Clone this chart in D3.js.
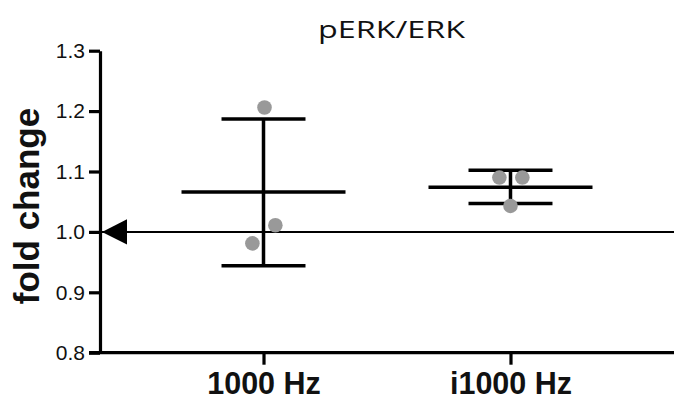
<!DOCTYPE html>
<html>
<head>
<meta charset="utf-8">
<script src="https://cdn.jsdelivr.net/npm/d3@7"></script>
<style>
  html, body { margin: 0; padding: 0; background: #fff; }
  svg { display: block; }
</style>
</head>
<body>
<svg id="chart" width="674" height="401"></svg>
<script>
// ---- data ----
const categories = ["1000 Hz", "i1000 Hz"];
const means = [1.066, 1.074];
const upper = [1.187, 1.102];
const lower = [0.944, 1.047];
const points1000 = [1.206, 1.011, 0.981];
const pointsI1000 = [1.090, 1.090, 1.043];
const jitter1000 = [0.004, 0.048, -0.045];   // fraction of category step
const jitterI1000 = [-0.045, 0.048, 0.0];
const yTicks = [0.8, 0.9, 1.0, 1.1, 1.2, 1.3];
const referenceValue = 1.0;
const title = "pERK/ERK";
const yLabel = "fold change";

const svg = d3.select("#chart");
const W = 674, H = 401;
const mLeft = 100, mTop = 50.7, mBottom = 352.7;

const y = d3.scaleLinear().domain([0.8, 1.3]).range([mBottom, mTop]);
const x = d3.scalePoint().domain(categories).range([mLeft, W]).padding(0.662);
const step = x.step();

// title
svg.append("text")
  .attr("x", 391.5).attr("y", 38)
  .attr("text-anchor", "middle")
  .attr("font-family", "'Open Sans', 'Noto Sans', sans-serif")
  .attr("font-size", 23.5)
  .attr("textLength", 147)
  .attr("lengthAdjust", "spacingAndGlyphs")
  .attr("fill", "#111")
  .text(title);

// y axis
const yAxis = svg.append("g")
  .attr("transform", `translate(${mLeft},0)`)
  .call(d3.axisLeft(y).tickValues(yTicks).tickFormat(d3.format(".1f")).tickSize(11).tickPadding(4).tickSizeOuter(0));
yAxis.select(".domain").attr("stroke", "#000").attr("stroke-width", 3.2);
yAxis.selectAll(".tick line").attr("stroke", "#000").attr("stroke-width", 3.2);
yAxis.selectAll(".tick text")
  .attr("font-family", "'Liberation Sans', Arial, sans-serif")
  .attr("font-size", 21)
  .attr("fill", "#111");

// x axis
const xAxis = svg.append("g")
  .attr("transform", `translate(0,${mBottom})`)
  .call(d3.axisBottom(x).tickSize(12).tickPadding(8).tickSizeOuter(0));
xAxis.select(".domain").attr("stroke", "#000").attr("stroke-width", 3.2)
  .attr("d", `M${mLeft - 11},0H${W}`);
xAxis.selectAll(".tick line").attr("stroke", "#000").attr("stroke-width", 3.2);
xAxis.selectAll(".tick text")
  .attr("font-family", "'Liberation Sans', Arial, sans-serif")
  .attr("font-weight", "bold")
  .attr("font-size", 30.5)
  .attr("fill", "#111");

// y label
svg.append("text")
  .attr("transform", `translate(39,${206}) rotate(-90)`)
  .attr("text-anchor", "middle")
  .attr("font-family", "'Liberation Sans', Arial, sans-serif")
  .attr("font-weight", "bold")
  .attr("font-size", 35)
  .attr("fill", "#111")
  .text(yLabel);

// reference line
svg.append("line")
  .attr("x1", mLeft).attr("x2", W)
  .attr("y1", y(referenceValue)).attr("y2", y(referenceValue))
  .attr("stroke", "#000").attr("stroke-width", 2);

// arrow
const ay = y(referenceValue);
svg.append("path")
  .attr("d", `M${mLeft + 2},${ay} L${mLeft + 27},${ay - 12.7} L${mLeft + 27},${ay + 12.7} Z`)
  .attr("fill", "#000");

// error bars and means
const groups = categories.map((c, i) => ({ c, mean: means[i], hi: upper[i], lo: lower[i] }));
const eb = svg.append("g").attr("stroke", "#000").attr("stroke-width", 3.5);
groups.forEach(g => {
  const cx = x(g.c);
  eb.append("line").attr("x1", cx).attr("x2", cx).attr("y1", y(g.hi)).attr("y2", y(g.lo));
  eb.append("line").attr("x1", cx - step * 0.17).attr("x2", cx + step * 0.17).attr("y1", y(g.hi)).attr("y2", y(g.hi));
  eb.append("line").attr("x1", cx - step * 0.17).attr("x2", cx + step * 0.17).attr("y1", y(g.lo)).attr("y2", y(g.lo));
  eb.append("line").attr("x1", cx - step * 0.332).attr("x2", cx + step * 0.332).attr("y1", y(g.mean)).attr("y2", y(g.mean));
});

// points
const pts = [];
points1000.forEach((v, i) => pts.push({ c: categories[0], v, j: jitter1000[i] }));
pointsI1000.forEach((v, i) => pts.push({ c: categories[1], v, j: jitterI1000[i] }));
svg.append("g").selectAll("circle").data(pts).join("circle")
  .attr("cx", d => x(d.c) + d.j * step)
  .attr("cy", d => y(d.v))
  .attr("r", 7.3)
  .attr("fill", "#999999");
</script>
</body>
</html>
